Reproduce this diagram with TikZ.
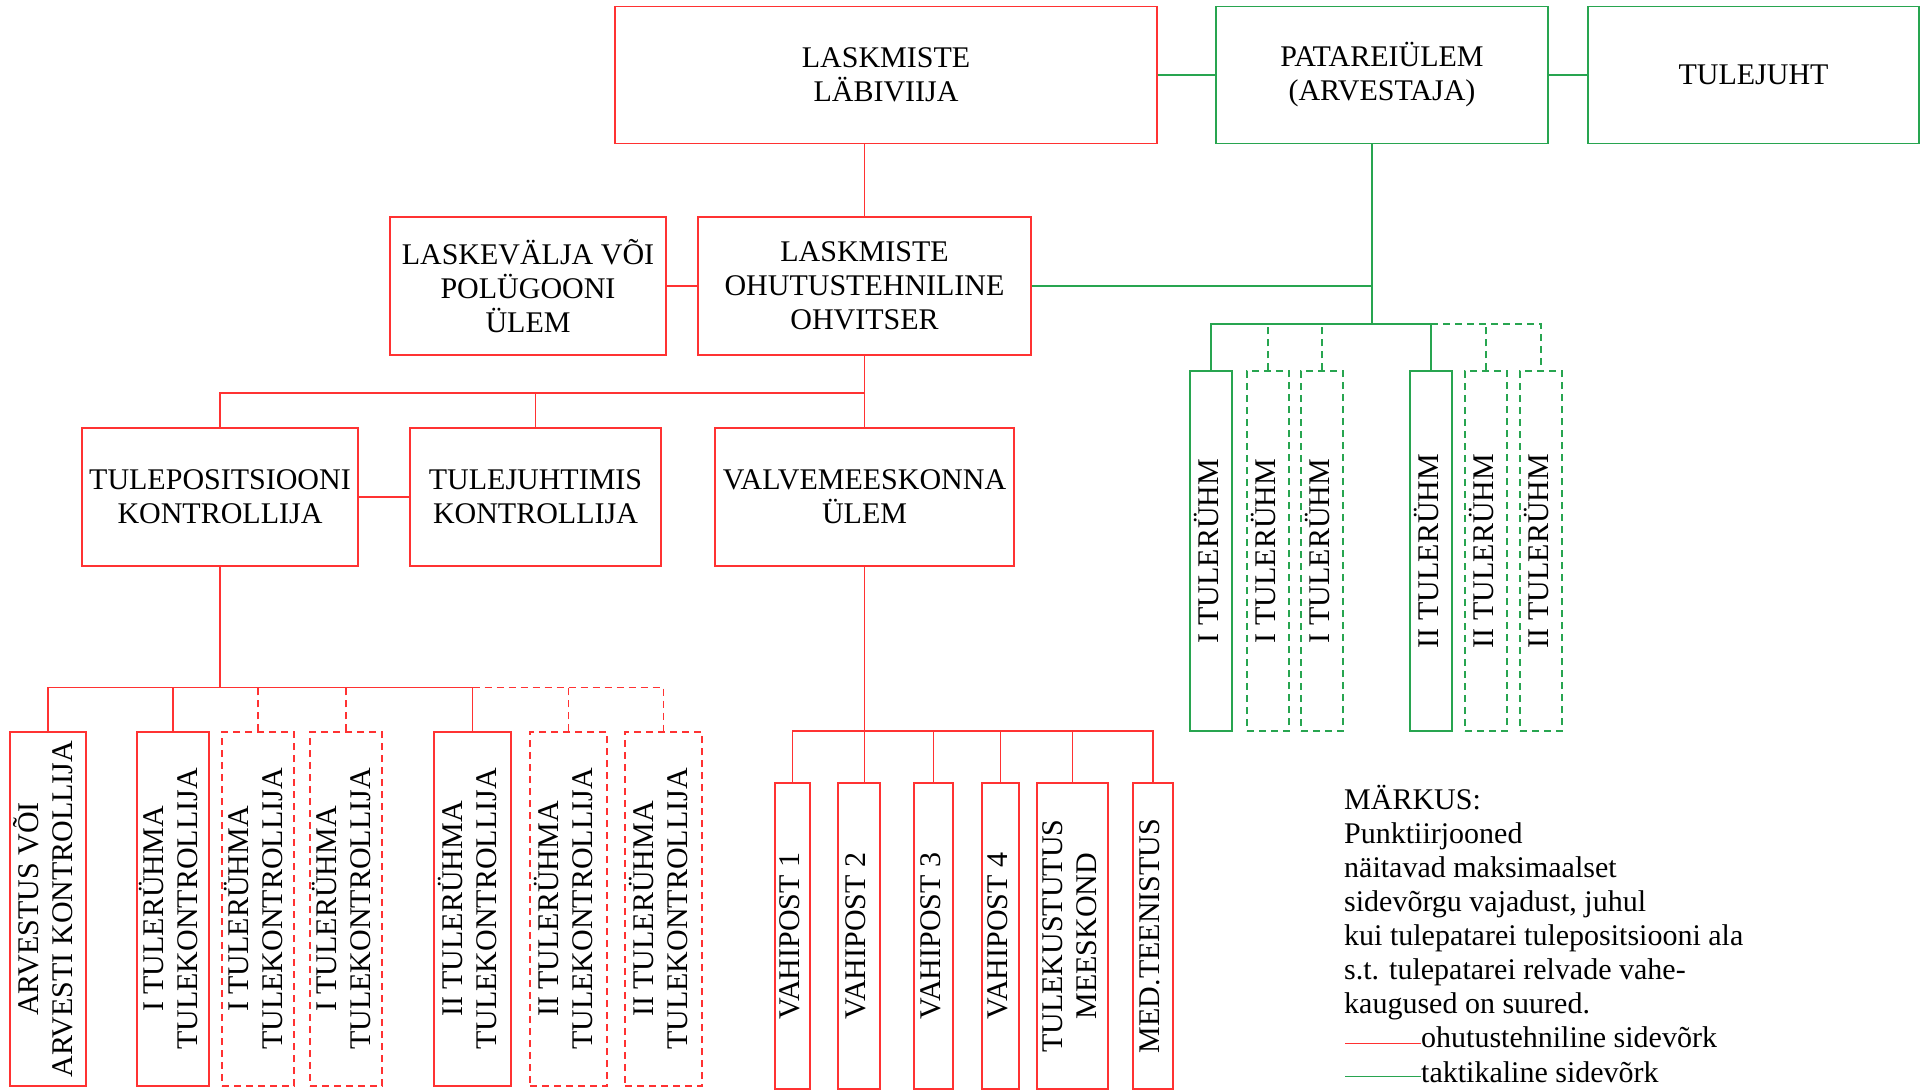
\documentclass[tikz,border=0pt]{standalone}
\usepackage{fontspec}
\setmainfont{Liberation Serif}
\usepackage{graphicx}
\usepackage{tikz}
\usetikzlibrary{calc}
\usepackage{xcolor}
\definecolor{ohured}{RGB}{255,50,50}
\definecolor{takgreen}{RGB}{40,165,80}
\newcommand{\vtxt}[1]{\rotatebox{90}{\begin{tabular}{@{}c@{}}#1\end{tabular}}}

\begin{document}
\begin{tikzpicture}[x=1pt, y=-1pt, font=\fontsize{30}{34}\selectfont,
    box/.style={draw, line width=1.3pt, inner sep=0pt, align=center},
    rbox/.style={box, draw=ohured},
    gbox/.style={box, draw=takgreen},
    rline/.style={ohured, line width=1.3pt},
    gline/.style={takgreen, line width=1.3pt},
    dsh/.style={dash pattern=on 7pt off 5pt}]
    \useasboundingbox (0,0) rectangle (1924,1090);
    \node[rbox, minimum width=542pt, minimum height=137pt] (lab) at (886,75) {LASKMISTE\\LÄBIVIIJA};
    \node[gbox, minimum width=332pt, minimum height=137pt] (pat) at (1382,75) {PATAREIÜLEM\\(ARVESTAJA)};
    \node[gbox, minimum width=331pt, minimum height=137pt] (tj) at (1753.5,75) {TULEJUHT};
    \draw[gline] (lab.east) -- (pat.west);
    \draw[gline] (pat.east) -- (tj.west);
    \node[rbox, minimum width=276pt, minimum height=138pt] (lv) at (528,286) {LASKEVÄLJA VÕI\\POLÜGOONI\\ÜLEM};
    \node[rbox, minimum width=333pt, minimum height=138pt] (ohv) at (864.5,286) {LASKMISTE\\OHUTUSTEHNILINE\\OHVITSER};
    \draw[rline] (ohv.north) -- (ohv.north |- lab.south);
    \draw[rline] (lv.east) -- (ohv.west);
    \coordinate (gj) at (1372,324);
    \draw[gline] (pat.south -| gj) -- (gj);
    \draw[gline] (ohv.east) -- (ohv.east -| gj);
    \foreach \n/\cx/\st/\t in {1/1211/solid/I, 2/1268/dsh/I, 3/1322/dsh/I, 4/1431/solid/II, 5/1486/dsh/II, 6/1541/dsh/II}
        \node[gbox, \st, minimum width=42pt, minimum height=360pt] (g\n) at (\cx,551) {\vtxt{\t\ TULERÜHM}};
    \draw[gline] (g1.north) -- (g1.north |- gj) -- (g4.north |- gj) -- (g4.north);
    \draw[gline, dsh] (g4.north |- gj) -- (g6.north |- gj) -- (g6.north);
    \foreach \n in {2,3,5}
        \draw[gline, dsh] (g\n.north) -- (g\n.north |- gj);
    \node[rbox, minimum width=276pt, minimum height=138pt] (tp) at (220,497) {TULEPOSITSIOONI\\KONTROLLIJA};
    \node[rbox, minimum width=251pt, minimum height=138pt] (tjk) at (535.5,497) {TULEJUHTIMIS\\KONTROLLIJA};
    \node[rbox, minimum width=299pt, minimum height=138pt] (vm) at (864.5,497) {VALVEMEESKONNA\\ÜLEM};
    \coordinate (rj) at (864.5,393);
    \draw[rline] (ohv.south) -- (vm.north);
    \draw[rline] (tp.north) |- (rj);
    \draw[rline] (tjk.north) -- (tjk.north |- rj);
    \draw[rline] (tp.east) -- (tjk.west);
    \foreach \n/\cx/\w/\st/\t in {1/48/76/solid/{ARVESTUS VÕI\\ARVESTI KONTROLLIJA},
        2/173/72/solid/{I TULERÜHMA\\TULEKONTROLLIJA}, 3/258/72/dsh/{I TULERÜHMA\\TULEKONTROLLIJA},
        4/346/72/dsh/{I TULERÜHMA\\TULEKONTROLLIJA}, 5/472.5/77/solid/{II TULERÜHMA\\TULEKONTROLLIJA},
        6/568.5/77/dsh/{II TULERÜHMA\\TULEKONTROLLIJA}, 7/663.5/77/dsh/{II TULERÜHMA\\TULEKONTROLLIJA}}
        \node[rbox, \st, minimum width=\w pt, minimum height=354pt] (k\n) at (\cx,909) {\vtxt{\t}};
    \draw[rline] (tp.south) -- ++(0,121) coordinate (kj);
    \draw[rline] (k1.north) -- (k1.north |- kj) -- (k5.north |- kj) -- (k5.north);
    \draw[rline] (k2.north) -- (k2.north |- kj);
    \draw[rline, dsh] (k5.north |- kj) -- (k7.north |- kj) -- (k7.north);
    \foreach \n in {3,4,6}
        \draw[rline, dsh] (k\n.north) -- (k\n.north |- kj);
    \foreach \n/\cx/\w/\t in {1/792.5/35/{VAHIPOST 1}, 2/859/42/{VAHIPOST 2}, 3/933.5/39/{VAHIPOST 3},
        4/1000.5/37/{VAHIPOST 4}, 5/1072.5/71/{TULEKUSTUTUS\\MEESKOND}, 6/1153/40/{MED.TEENISTUS}}
        \node[rbox, minimum width=\w pt, minimum height=306pt] (v\n) at (\cx,936) {\vtxt{\t}};
    \coordinate (vj) at (864.5,731);
    \draw[rline] (vm.south) -- (vm.south |- v2.north);
    \draw[rline] (v1.north) -- (v1.north |- vj) -- (v6.north |- vj) -- (v6.north);
    \foreach \n in {3,4,5}
        \draw[rline] (v\n.north) -- (v\n.north |- vj);
    \node[anchor=north west, align=left, inner sep=0pt] (note) at (1344,785) {MÄRKUS:\\Punktiirjooned\\näitavad maksimaalset\\sidevõrgu vajadust, juhul\\kui tulepatarei tulepositsiooni ala\\s.t. tulepatarei relvade vahe-\\kaugused on suured.};
    \node[anchor=base west, inner sep=0pt] (lr) at (1421,1047) {ohutustehniline sidevõrk};
    \node[anchor=base west, inner sep=0pt] (lg) at (1421,1082) {taktikaline sidevõrk};
    \coordinate (lrs) at (1345,1043);
    \coordinate (lgs) at (1345,1076);
    \draw[rline, line width=1pt] (lrs) -- (lrs -| lr.west);
    \draw[gline, line width=1pt] (lgs) -- (lgs -| lg.west);
\end{tikzpicture}
\end{document}
